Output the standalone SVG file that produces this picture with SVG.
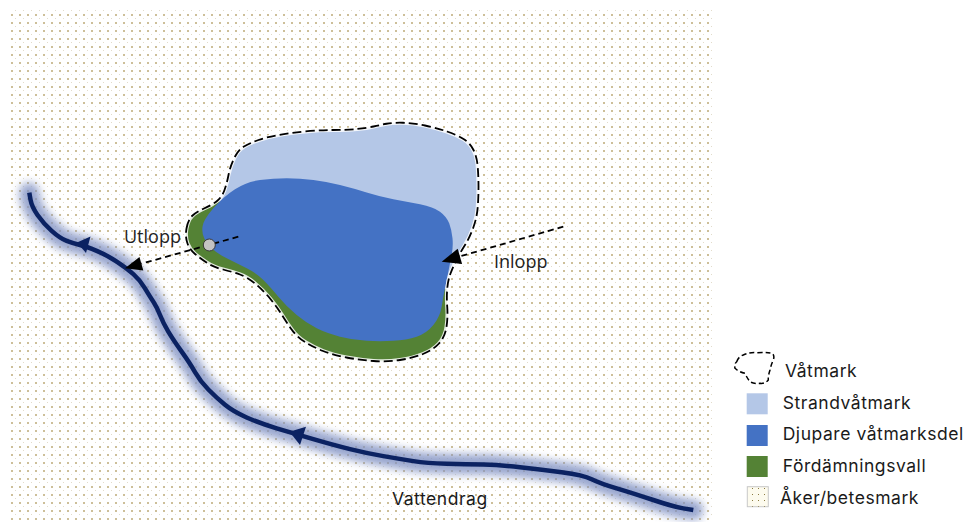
<svg xmlns="http://www.w3.org/2000/svg" width="967" height="522" viewBox="0 0 967 522">
  <style>
    .label { font-family: "Open Sans", "Noto Sans", sans-serif; font-size: 18px; fill: #222; }
    .legend { font-family: Inter, "Liberation Sans", sans-serif; font-size: 17.5px; letter-spacing: 0.55px; fill: #1a1a1a; }
    .boundary { fill: none; stroke: #000; stroke-width: 1.8; stroke-dasharray: 9 4; stroke-linejoin: round; }
    .halo { fill: none; stroke: #fff; stroke-width: 4; stroke-opacity: 0.85; stroke-linejoin: round; }
    .flow { fill: none; stroke: #000; stroke-width: 1.8; stroke-dasharray: 6 4; }
    .stream { fill: none; stroke: #0b2262; stroke-width: 4.5; stroke-linejoin: round; }
    .streamglow { fill: none; stroke: #7f90c2; stroke-width: 20; stroke-linejoin: round; stroke-linecap: round; opacity: 0.8; }
  </style>
  <defs>
    <pattern id="dots" patternUnits="userSpaceOnUse" x="0" y="0" width="8" height="8">
      <rect x="3" y="6" width="2" height="2" fill="#cdbf99"/>
      <rect x="7" y="2" width="1" height="1" fill="#e2dccb"/>
    </pattern>
    <pattern id="dotsSmall" patternUnits="userSpaceOnUse" x="0" y="0" width="6" height="6">
      <rect x="2" y="2" width="1" height="1" fill="#8a7a40"/>
    </pattern>
    <filter id="blur" x="-10%" y="-10%" width="120%" height="120%">
      <feGaussianBlur stdDeviation="4.5"/>
    </filter>
    <path id="streamPath" d="M29.3,192.7 L30.5,199.7 Q31.7,206.7 37.5,215 Q43.3,223.3 51.65,230.8 Q60,238.3 66.65,240.8 Q73.3,243.3 80,245 Q86.7,246.7 96.7,250.85 Q106.7,255 116.7,261.65 Q126.7,268.3 133.35,274.15 Q140,280 145,288.35 Q150,296.7 153.35,301.7 Q156.7,306.7 160,315 Q163.3,323.3 168.3,331.65 Q173.3,340 181.65,351.65 Q190,363.3 195,372.15 Q200,381 208.35,389.5 Q216.7,398 225,404.85 Q233.3,411.7 246.65,417.5 Q260,423.3 276.65,428.3 Q293.3,433.3 313.3,439.15 Q333.3,445 350,449.15 Q366.7,453.3 383.35,456.15 Q400,459 413.35,461.15 Q426.7,463.3 446.7,463.65 Q466.7,464 483.35,464.5 Q500,465 520,467.15 Q540,469.3 561.65,472.15 Q583.3,475 591.65,479.15 Q600,483.3 616.65,488.3 Q633.3,493.3 653.3,500 Q673.3,506.7 683.3,508.35 L693.3,510"/>
    <path id="wetlandOutline" d="M186.5,228.5 Q188,220 192,216 Q196,212 204,208.5 Q212,205 217,201 Q222,197 224.5,190 Q227,183 228.5,175 Q230,167 234,158.5 Q238,150 244,146.5 Q250,143 258.5,140 Q267,137 278.5,135 Q290,133 305,131.5 Q320,130 333.5,130 Q347,130 357,129 Q367,128 373.5,126.5 Q380,125 386.5,123.75 Q393,122.5 403,122.75 Q413,123 425,125.5 Q437,128 447,131.5 Q457,135 463.5,139 Q470,143 473.5,150 Q477,157 477.75,167 Q478.5,177 478.5,187 Q478.5,197 477.75,207 Q477,217 473.5,227 Q470,237 465,245 Q460,253 456.5,260 Q453,267 450.5,273.5 Q448,280 447.25,288.5 Q446.5,297 447.25,307 Q448,317 446.5,327 Q445,337 439,343.5 Q433,350 423,354 Q413,358 400,360 Q387,362 373.5,361 Q360,360 346.5,357.5 Q333,355 323,351 Q313,347 305,342 Q297,337 292,330 Q287,323 282,315 Q277,307 270,298.5 Q263,290 255,283.5 Q247,277 240,274.5 Q233,272 223,269.5 Q213,267 206.5,262.5 Q200,258 195,254 Q190,250 187.5,243.5 Q185,237 186.5,228.5 Z"/>
  </defs>

  <!-- field background -->
  <rect id="field" x="8" y="10" width="704" height="512" fill="url(#dots)"/>

  <!-- labels under the wetland -->
  <g id="label-utlopp"><text class="label" x="124" y="243">Utlopp</text></g>
  <g id="label-inlopp"><text class="label" x="494" y="268">Inlopp</text></g>

  <!-- stream -->
  <g id="stream">
    <use href="#streamPath" class="streamglow" filter="url(#blur)"/>
    <use href="#streamPath" class="stream"/>
    <polygon points="77,242.5 90.5,236.5 86,253" fill="#0b2262"/>
    <polygon points="289.5,431.7 306,426.7 300,445" fill="#0b2262"/>
    <text class="legend" x="392" y="505">Vattendrag</text>
  </g>

  <!-- wetland -->
  <g id="wetland">
    <use href="#wetlandOutline" fill="#b4c7e7"/>
    <path id="dam" fill="#548235" d="M447.25,288.5 Q446.5,297 447.25,307 Q448,317 446.5,327 Q445,337 439,343.5 Q433,350 423,354 Q413,358 400,360 Q387,362 373.5,361 Q360,360 346.5,357.5 Q333,355 323,351 Q313,347 305,342 Q297,337 292,330 Q287,323 282,315 Q277,307 270,298.5 Q263,290 255,283.5 Q247,277 240,274.5 Q233,272 223,269.5 Q213,267 206.5,262.5 Q200,258 195,254 Q190,250 187.5,243.5 Q185,237 186.5,228.5 Q188,220 192,216 Q196,212 204,208.5 Q212,205 217,201 L232,205 L260,250 L330,320 L420,320 L440,290 Z"/>
    <path id="deep" fill="#4472c4" d="M202.5,226.65 Q203.3,220 213.3,208.35 Q223.3,196.7 235,189.2 Q246.7,181.7 260,180 Q273.3,178.3 286.65,178.3 Q300,178.3 313.35,180 Q326.7,181.7 340,185 Q353.3,188.3 366.65,192.5 Q380,196.7 393.35,199.2 Q406.7,201.7 420,204.2 Q433.3,206.7 440,211.7 Q446.7,216.7 449.2,223.35 Q451.7,230 452.5,238.35 Q453.3,246.7 451.65,255 Q450,263.3 448.35,271.65 Q446.7,280 445,288.35 Q443.3,296.7 441.65,306.7 Q440,316.7 433.35,325 Q426.7,333.3 416.7,336.65 Q406.7,340 393.35,340.85 Q380,341.7 366.65,340.85 Q353.3,340 340,336.65 Q326.7,333.3 316.7,328.3 Q306.7,323.3 296.7,315 Q286.7,306.7 278.35,296.7 Q270,286.7 263.35,280 Q256.7,273.3 246.7,268.3 Q236.7,263.3 226.7,258.3 Q216.7,253.3 211.7,248.3 Q206.7,243.3 204.2,238.3 Q201.7,233.3 202.5,226.65 Z"/>
    <use href="#wetlandOutline" class="halo"/>
    <use href="#wetlandOutline" class="boundary"/>
  </g>

  <!-- inflow and outflow connectors -->
  <g id="connectors">
    <line class="flow" x1="238.3" y1="236.7" x2="141.4" y2="263.7"/>
    <polygon points="125,268.3 143.3,270.4 139.5,257" fill="#000"/>
    <line class="flow" x1="563.3" y1="226.7" x2="459.9" y2="256.4"/>
    <polygon points="441.7,261.7 462.1,264.1 457.7,248.7" fill="#000"/>
  </g>
  <g id="outlet"><circle cx="209.3" cy="245" r="6" fill="#c4c4c4" stroke="#3a3a3a" stroke-width="1"/></g>

  <!-- legend -->
  <g id="legend">
    <g id="legend-vatmark">
      <path d="M736.7,361.7 Q739,356 743.3,355 Q750,352 756.7,352.7 Q765,352 771.7,353.3 Q775,355 773.3,360 Q771,365 770,370 Q768,376 768.3,380 Q765,384 760,383.3 Q754,384 750,381.7 Q747,378 745,373.3 Q739,372 735,368.3 Q734,364 736.7,361.7 Z" fill="none" stroke="#000" stroke-width="1.5" stroke-dasharray="5 3"/>
      <text class="legend" x="785" y="377">Våtmark</text>
    </g>
    <g id="legend-strand">
      <rect x="746.7" y="393.3" width="21" height="21" fill="#b4c7e7"/>
      <text class="legend" x="782.7" y="408.5">Strandvåtmark</text>
    </g>
    <g id="legend-deep">
      <rect x="746.7" y="425" width="21" height="21" fill="#4472c4"/>
      <text class="legend" x="782.7" y="440">Djupare våtmarksdel</text>
    </g>
    <g id="legend-dam">
      <rect x="746.7" y="456" width="21" height="21" fill="#548235"/>
      <text class="legend" x="782.7" y="471.7">Fördämningsvall</text>
    </g>
    <g id="legend-field">
      <rect x="747.3" y="486.7" width="21" height="20" fill="#fdfbee" stroke="#c8c8c8" stroke-width="1"/>
      <rect x="747.3" y="486.7" width="21" height="20" fill="url(#dotsSmall)"/>
      <text class="legend" x="780" y="504">Åker/betesmark</text>
    </g>
  </g>
</svg>
